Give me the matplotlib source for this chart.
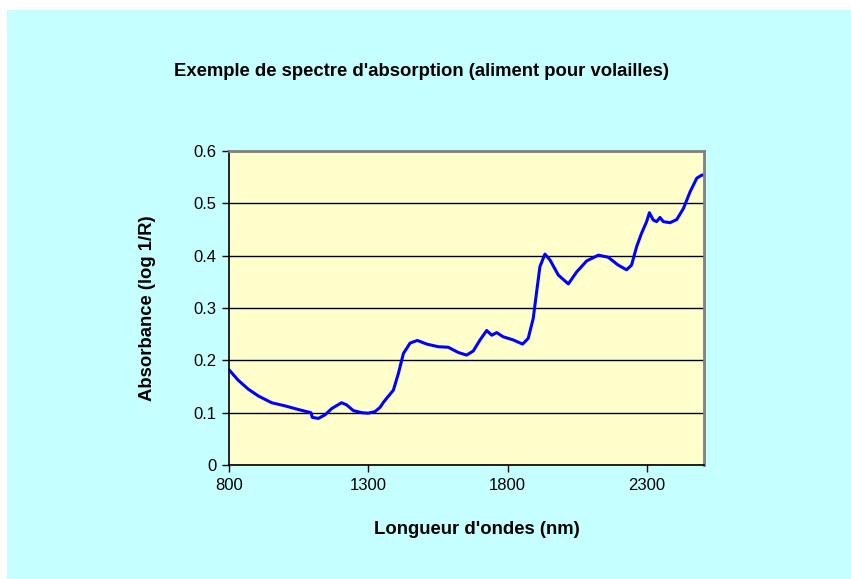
import matplotlib
matplotlib.use("Agg")
import matplotlib.pyplot as plt
from matplotlib.patches import Rectangle

wavelength = [800, 833, 869, 905, 953, 1001, 1049, 1094, 1099, 1121, 1145, 1169,
              1204, 1222, 1246, 1276, 1300, 1324, 1342, 1356, 1390, 1408, 1426,
              1450, 1476, 1510, 1551, 1587, 1623, 1653, 1677, 1701, 1725, 1743,
              1761, 1784, 1820, 1854, 1874, 1892, 1905, 1916, 1934, 1952, 1982,
              2018, 2048, 2084, 2126, 2161, 2197, 2227, 2245, 2263, 2281, 2299,
              2309, 2323, 2335, 2347, 2359, 2383, 2407, 2431, 2455, 2479, 2497, 2505]
absorbance = [0.182, 0.162, 0.145, 0.132, 0.119, 0.113, 0.106, 0.100, 0.091, 0.089,
              0.096, 0.108, 0.119, 0.115, 0.104, 0.100, 0.099, 0.102, 0.110, 0.121,
              0.143, 0.175, 0.213, 0.233, 0.238, 0.231, 0.226, 0.225, 0.215, 0.210,
              0.218, 0.239, 0.257, 0.248, 0.253, 0.245, 0.239, 0.231, 0.242, 0.280,
              0.334, 0.379, 0.403, 0.392, 0.363, 0.346, 0.369, 0.390, 0.401, 0.397,
              0.382, 0.373, 0.382, 0.417, 0.443, 0.465, 0.482, 0.468, 0.465, 0.473,
              0.465, 0.463, 0.469, 0.490, 0.522, 0.548, 0.554, 0.554]
xticks = [800, 1300, 1800, 2300]
yticks = [0, 0.1, 0.2, 0.3, 0.4, 0.5, 0.6]
ytick_labels = ["0", "0.1", "0.2", "0.3", "0.4", "0.5", "0.6"]

plt.rcParams['font.family'] = ['Liberation Sans', 'DejaVu Sans']

W, H = 851, 579
fig = plt.figure(figsize=(W / 100, H / 100), dpi=100)
fig.patch.set_facecolor('white')
fig.patches.append(Rectangle((7 / W, 0), 1 - 7 / W, 1 - 10 / H,
                             transform=fig.transFigure, facecolor='#C6FFFF',
                             edgecolor='none', zorder=-5))

l, r, t, b = 229, 704, 151, 465
ax = fig.add_axes([l / W, 1 - b / H, (r - l) / W, (b - t) / H])
ax.set_zorder(2)
ax.set_facecolor('#FFFFCC')
ax.plot(wavelength, absorbance, color='#0000FF', lw=2.2,
        solid_joinstyle='round', solid_capstyle='round')
ax.set_xlim(800, 2505)
ax.set_ylim(0, 0.6)
ax.set_xticks(xticks)
ax.set_xticklabels([str(v) for v in xticks])
ax.set_yticks(yticks)
ax.set_yticklabels(ytick_labels)
ax.grid(axis='y', color='black', lw=1)
ax.set_axisbelow(True)
for s in ['left', 'bottom']:
    ax.spines[s].set_color('black')
    ax.spines[s].set_linewidth(1.2)
for s in ['top', 'right']:
    ax.spines[s].set_color('#808080')
    ax.spines[s].set_linewidth(2)
ax.tick_params(axis='both', direction='out', length=5, width=1, colors='black',
               labelsize=12, pad=4)

fig.text(421 / W, 1 - 71 / H, "Exemple de spectre d'absorption (aliment pour volailles)",
         ha='center', va='center', fontsize=13.3, fontweight='bold')
fig.text(477 / W, 1 - 530 / H, "Longueur d'ondes (nm)", ha='center', va='center',
         fontsize=13.3, fontweight='bold')
fig.text(148 / W, 1 - 308 / H, "Absorbance (log 1/R)", ha='center', va='center',
         rotation=90, fontsize=13.3, fontweight='bold')

fig.savefig('out.png', dpi=100, facecolor=fig.get_facecolor())
